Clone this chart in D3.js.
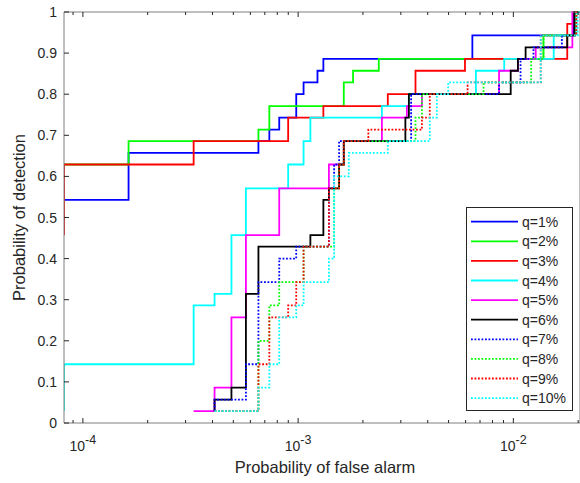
<!DOCTYPE html>
<html>
<head>
<meta charset="utf-8">
<script src="https://cdn.jsdelivr.net/npm/d3@7"></script>
<style>
  body { margin: 0; background: #fff; }
  svg { display: block; font-family: "Liberation Sans", Arial, sans-serif; }
</style>
</head>
<body>
<svg id="chart" width="580" height="483"></svg>
<script>
// legend labels and styles per series
var labels = ["q=1%", "q=2%", "q=3%", "q=4%", "q=5%", "q=6%", "q=7%", "q=8%", "q=9%", "q=10%"];
var colors = ["#0000ff", "#00ff00", "#ff0000", "#00ffff", "#ff00ff", "#000000", "#0000ff", "#00ff00", "#ff0000", "#00ffff"];
var dotted = [false, false, false, false, false, false, true, true, true, true];

// false alarm (x) and detection (y) step points
var fa1 = [8.17e-5, 1.63e-4, 6.54e-4, 7.35e-4, 8.17e-4, 9.8e-4, 1.06e-3, 1.23e-3, 1.31e-3, 6.45e-3, 1.9e-2];
var pd1 = [0.543, 0.657, 0.686, 0.714, 0.743, 0.8, 0.829, 0.857, 0.886, 0.943, 1];
var fa2 = [8.17e-5, 1.63e-4, 6.54e-4, 7.35e-4, 1.63e-3, 1.8e-3, 2.37e-3, 1.38e-2, 1.94e-2];
var pd2 = [0.629, 0.686, 0.714, 0.771, 0.829, 0.857, 0.886, 0.943, 1];
var fa3 = [8.17e-5, 8.17e-5, 3.27e-4, 8.99e-4, 1.31e-3, 2.61e-3, 3.51e-3, 5.96e-3, 1.78e-2, 1.92e-2];
var pd3 = [0.457, 0.629, 0.686, 0.743, 0.771, 0.8, 0.857, 0.886, 0.971, 1];
var fa4 = [8.17e-5, 8.17e-5, 3.27e-4, 4.09e-4, 4.9e-4, 5.72e-4, 8.99e-4, 1.06e-3, 1.14e-3, 2.45e-3, 3.27e-3, 6.7e-3, 9.07e-3, 1.54e-2, 1.93e-2];
var pd4 = [0.029, 0.143, 0.286, 0.314, 0.457, 0.571, 0.629, 0.686, 0.743, 0.771, 0.8, 0.857, 0.886, 0.943, 1];
var fa5 = [3.27e-4, 4.09e-4, 4.9e-4, 5.72e-4, 8.17e-4, 1.39e-3, 1.63e-3, 2.45e-3, 3.2e-3, 3.76e-3, 8.58e-3, 1.05e-2, 1.27e-2, 1.88e-2];
var pd5 = [0.029, 0.086, 0.257, 0.457, 0.571, 0.629, 0.686, 0.743, 0.771, 0.8, 0.857, 0.886, 0.914, 1];
var fa6 = [4.09e-4, 4.09e-4, 4.9e-4, 5.72e-4, 6.54e-4, 1.14e-3, 1.31e-3, 1.39e-3, 1.55e-3, 1.63e-3, 3.15e-3, 3.27e-3, 9.72e-3, 1.05e-2, 1.14e-2, 1.78e-2, 1.92e-2];
var pd6 = [0.029, 0.057, 0.086, 0.314, 0.429, 0.457, 0.543, 0.571, 0.629, 0.686, 0.743, 0.8, 0.857, 0.886, 0.914, 0.943, 1];
var fa7 = [4.09e-4, 4.09e-4, 5.72e-4, 6.54e-4, 8.17e-4, 9.8e-4, 1.39e-3, 1.47e-3, 1.55e-3, 3.35e-3, 8.58e-3, 1.08e-2, 1.24e-2, 1.68e-2, 1.96e-2];
var pd7 = [0.029, 0.057, 0.143, 0.343, 0.4, 0.429, 0.571, 0.629, 0.686, 0.8, 0.829, 0.886, 0.914, 0.943, 1];
var fa8 = [4.09e-4, 6.54e-4, 7.35e-4, 8.17e-4, 1.06e-3, 1.47e-3, 1.55e-3, 1.63e-3, 3.51e-3, 3.76e-3, 7.27e-3, 1.21e-2, 1.38e-2, 1.96e-2];
var pd8 = [0.029, 0.2, 0.286, 0.343, 0.429, 0.571, 0.629, 0.686, 0.743, 0.8, 0.829, 0.886, 0.943, 1];
var fa9 = [4.09e-4, 6.54e-4, 7.35e-4, 8.99e-4, 9.8e-4, 1.06e-3, 1.39e-3, 1.55e-3, 1.63e-3, 2.12e-3, 3.76e-3, 4.09e-3, 6.13e-3, 1.34e-2, 1.96e-2];
var pd9 = [0.029, 0.143, 0.257, 0.286, 0.343, 0.429, 0.571, 0.629, 0.686, 0.714, 0.743, 0.8, 0.829, 0.943, 1];
var fa10 = [4.09e-4, 6.54e-4, 7.35e-4, 8.17e-4, 9.8e-4, 1.06e-3, 1.39e-3, 1.47e-3, 1.72e-3, 2.61e-3, 4.09e-3, 4.41e-3, 4.98e-3, 1.34e-2, 1.99e-2];
var pd10 = [0.029, 0.086, 0.143, 0.257, 0.286, 0.343, 0.4, 0.6, 0.657, 0.686, 0.743, 0.8, 0.829, 0.943, 1];

var xDomain = [8.17e-5, 2.04e-2];
var yTicks = [0, 0.1, 0.2, 0.3, 0.4, 0.5, 0.6, 0.7, 0.8, 0.9, 1];
var xTickExp = [-4, -3, -2];

var faAll = [fa1, fa2, fa3, fa4, fa5, fa6, fa7, fa8, fa9, fa10];
var pdAll = [pd1, pd2, pd3, pd4, pd5, pd6, pd7, pd8, pd9, pd10];

var margin = {left: 64, right: 0, top: 12, bottom: 60};
var svg = d3.select("#chart");
var W = 580, H = 483;
var x = d3.scaleLog().domain(xDomain).range([margin.left, W - margin.right]);
var y = d3.scaleLinear().domain([0, 1]).range([H - margin.bottom, margin.top]);
var axisColor = "#262626";

svg.append("clipPath").attr("id", "plotclip").append("rect")
    .attr("x", margin.left).attr("y", margin.top - 2)
    .attr("width", W - margin.left).attr("height", y(0) - margin.top + 4);

// curves
var plot = svg.append("g").attr("clip-path", "url(#plotclip)");
var line = d3.line()
    .x(function(d){ return x(d[0]); })
    .y(function(d){ return y(d[1]); })
    .curve(d3.curveStepAfter);

faAll.forEach(function(fa, i){
    var pts = fa.map(function(f, k){ return [f, pdAll[i][k]]; });
    pts.push([xDomain[1] * 1.2, pdAll[i][pdAll[i].length - 1]]);
    plot.append("path")
        .attr("d", line(pts))
        .attr("fill", "none")
        .attr("stroke", colors[i])
        .attr("stroke-width", 1.8)
        .attr("stroke-dasharray", dotted[i] ? "1.8,1.7" : null);
});

// box
var g = svg.append("g");
g.append("path")
    .attr("d", "M" + x.range()[0] + "," + y(0) + "H" + x.range()[1] + "V" + y(1) + "H" + x.range()[0] + "Z")
    .attr("fill", "none").attr("stroke", "#7f7f7f").attr("stroke-width", 1);

// x ticks (log, inward, top & bottom)
var majors = xTickExp.map(function(e){ return Math.pow(10, e); });
var minors = [];
[-5, -4, -3, -2].forEach(function(e){
    for (var m = 2; m <= 9; m++) {
        var v = m * Math.pow(10, e);
        if (v >= xDomain[0] && v <= xDomain[1]) minors.push(v);
    }
});
majors.forEach(function(v){
    g.append("line").attr("x1", x(v)).attr("x2", x(v)).attr("y1", y(0)).attr("y2", y(0) - 5).attr("stroke", axisColor);
    g.append("line").attr("x1", x(v)).attr("x2", x(v)).attr("y1", y(1)).attr("y2", y(1) + 5).attr("stroke", axisColor);
});
minors.forEach(function(v){
    g.append("line").attr("x1", x(v)).attr("x2", x(v)).attr("y1", y(0)).attr("y2", y(0) - 3).attr("stroke", axisColor);
    g.append("line").attr("x1", x(v)).attr("x2", x(v)).attr("y1", y(1)).attr("y2", y(1) + 3).attr("stroke", axisColor);
});
xTickExp.forEach(function(e){
    var t = g.append("text")
        .attr("x", x(Math.pow(10, e)))
        .attr("y", y(0) + 28)
        .attr("text-anchor", "middle")
        .attr("font-size", 14)
        .attr("fill", axisColor);
    t.append("tspan").text("10");
    t.append("tspan").attr("dy", -7).attr("font-size", 12.5).text("-" + Math.abs(e));
});

// y ticks
yTicks.forEach(function(v){
    g.append("line").attr("x1", x.range()[0]).attr("x2", x.range()[0] + 5).attr("y1", y(v)).attr("y2", y(v)).attr("stroke", axisColor);
    g.append("text")
        .attr("x", x.range()[0] - 7)
        .attr("y", y(v) + 5)
        .attr("text-anchor", "end")
        .attr("font-size", 14)
        .attr("fill", axisColor)
        .text(d3.format("")(v));
});

// axis labels
svg.append("text")
    .attr("x", (x.range()[0] + x.range()[1]) / 2 + 3)
    .attr("y", 473)
    .attr("text-anchor", "middle")
    .attr("font-size", 16.5)
    .attr("fill", axisColor)
    .text("Probability of false alarm");
svg.append("text")
    .attr("transform", "translate(25," + ((y(0) + y(1)) / 2) + ") rotate(-90)")
    .attr("text-anchor", "middle")
    .attr("font-size", 16.5)
    .attr("fill", axisColor)
    .text("Probability of detection");

// legend
var lg = svg.append("g");
lg.append("rect")
    .attr("x", 466.5).attr("y", 207.5).attr("width", 106).attr("height", 203)
    .attr("fill", "#fff").attr("stroke", axisColor).attr("stroke-width", 1);
labels.forEach(function(lab, i){
    var yy = 221.7 + i * 19.6;
    lg.append("line")
        .attr("x1", 471).attr("x2", 518).attr("y1", yy).attr("y2", yy)
        .attr("stroke", colors[i]).attr("stroke-width", 1.8)
        .attr("stroke-dasharray", dotted[i] ? "1.8,1.7" : null);
    lg.append("text")
        .attr("x", 522).attr("y", yy + 5)
        .attr("font-size", 14)
        .attr("fill", axisColor)
        .text(lab);
});
</script>
</body>
</html>
